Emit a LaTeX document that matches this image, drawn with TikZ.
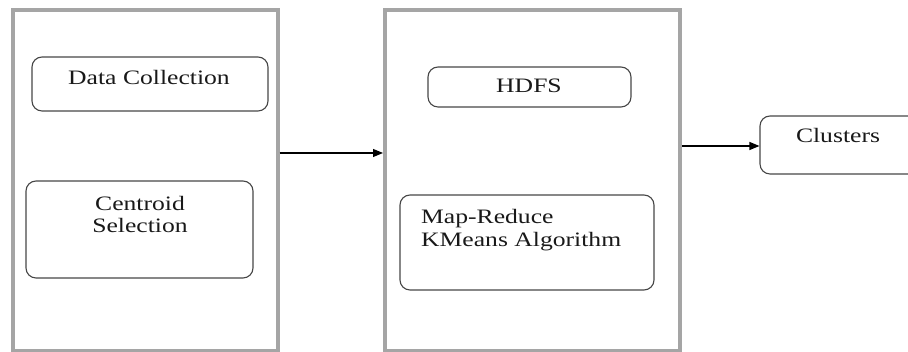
\documentclass[tikz,border=0pt]{standalone}
\usepackage{fontspec}
\setmainfont{Liberation Serif}[FakeStretch=1.25]
\usetikzlibrary{arrows.meta}
\definecolor{panelgray}{RGB}{165,165,165}
\definecolor{boxline}{RGB}{70,70,70}
\definecolor{txt}{RGB}{25,25,25}
\begin{document}
\begin{tikzpicture}[x=1pt,y=1pt,
  panel/.style={draw=panelgray,line width=4pt,inner sep=0pt},
  stepbox/.style={draw=boxline,line width=1.1pt,rounded corners=10pt,inner sep=0pt},
  lbl/.style={anchor=base,inner sep=0pt,text=txt,font=\fontsize{20.5}{22}\selectfont},
  flow/.style={draw=black,line width=1.1pt,-{Triangle[length=10pt,width=8pt]}}]
\useasboundingbox (0,0) rectangle (908,352);
\begin{scope}
\clip (0,0) rectangle (908,352);
% outer panels
\node[panel,minimum width=265pt,minimum height=341pt] (left) at (145,351.5-180) {};
\node[panel,minimum width=295pt,minimum height=341pt] (mid) at (532.5,351.5-180) {};
% inner steps of the left panel
\node[stepbox,minimum width=236pt,minimum height=54pt] (dc) at (150,352-84) {};
\node[stepbox,minimum width=227pt,minimum height=97pt] (cs) at (139.5,352-229.5) {};
% inner steps of the middle panel
\node[stepbox,minimum width=203pt,minimum height=40pt] (hdfs) at (529.5,352-87) {};
\node[stepbox,minimum width=254pt,minimum height=95pt] (mr) at (527,352-242.5) {};
% result
\node[stepbox,minimum width=170pt,minimum height=58pt] (cl) at (845,352-145) {};
% labels
\node[lbl] (dct) at (149,352-85) {Data Collection};
\node[lbl] (cst1) at (140,352-211) {Centroid};
\node[lbl] (cst2) at (140,352-233) {Selection};
\node[lbl] (hdfst) at (529,352-93) {HDFS};
\node[lbl,anchor=base west] (mrt1) at (421,352-224) {Map-Reduce};
\node[lbl,anchor=base west] (mrt2) at (421,352-247) {KMeans Algorithm};
\node[lbl] (clt) at (838,352-143) {Clusters};
% connectors
\coordinate (ya) at (0,352-153);
\coordinate (yb) at (0,352-146);
\draw[flow] (left.east |- ya) -- (mid.west |- ya);
\draw[flow] (mid.east |- yb) -- (cl.west |- yb);
\end{scope}
\end{tikzpicture}
\end{document}
